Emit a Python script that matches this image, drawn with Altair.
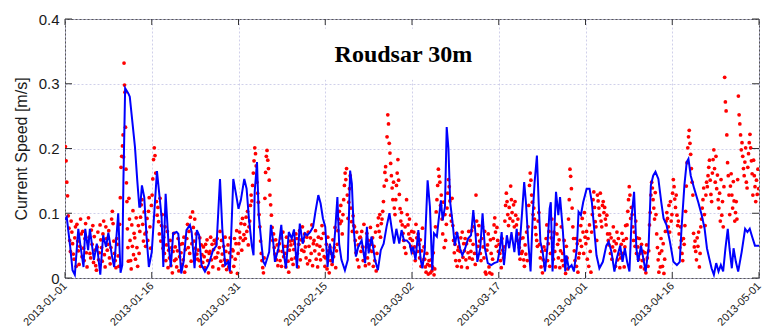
import altair as alt
import pandas as pd

START = pd.Timestamp("2013-01-01")
W, H = 694, 259

tick_dates = ["2013-01-01", "2013-01-16", "2013-01-31", "2013-02-15", "2013-03-02",
              "2013-03-17", "2013-04-01", "2013-04-16", "2013-05-01"]
y_ticks = [0.0, 0.1, 0.2, 0.3, 0.4]
title_text = "Roudsar 30m"
title_time = "2013-02-28T12:00:00"
title_speed = 0.334
box_dates = ["2013-02-14T00:00:00", "2013-03-14T00:00:00"]
box_speed = [0.306, 0.385]

# model current speed (day offset from 2013-01-01, m/s)
model_trace = [
    (0.0, .090), (0.3, .094), (0.9, .048), (1.3, .012), (1.7, .005), (2.3, .076), (2.7, .048), (3.2, .017), (3.5, .076), (4.0, .043),
    (4.3, .076), (5.0, .028), (5.5, .053), (6.1, .005), (6.6, .066), (7.1, .048), (7.5, .070), (8.1, .035), (8.5, .017), (9.2, .100),
    (9.6, .008), (9.9, .020), (10.1, .150), (10.4, .293), (10.95, .285), (11.2, .280), (12.1, .202), (12.5, .150), (12.85, .110), (13.0, .110),
    (13.3, .143), (13.7, .125), (14.1, .064), (14.5, .017), (15.0, .040), (15.9, .165), (16.3, .130), (16.7, .094), (17.0, .017), (17.4, .130),
    (17.9, .053), (18.3, .017), (18.7, .069), (19.3, .071), (19.6, .068), (20.1, .007), (20.5, .025), (21.0, .074), (21.6, .082), (21.9, .071),
    (22.4, .015), (22.8, .074), (23.2, .066), (23.6, .020), (24.2, .010), (24.8, .020), (25.6, .043), (26.2, .050), (26.8, .153), (27.2, .076),
    (27.7, .020), (28.2, .025), (28.5, .010), (29.1, .153), (29.6, .128), (30.0, .107), (30.4, .120), (31.0, .153), (31.4, .138), (31.8, .092),
    (32.3, .050), (32.6, .035), (32.8, .133), (33.2, .179), (33.5, .097), (34.0, .050), (34.3, .025), (34.6, .020), (35.3, .040), (35.6, .082),
    (36.0, .056), (36.3, .025), (36.9, .046), (37.4, .082), (37.7, .046), (38.2, .015), (38.7, .071), (39.2, .061), (39.6, .075), (40.1, .015),
    (40.6, .084), (41.1, .053), (41.5, .069), (41.9, .066), (42.4, .071), (42.9, .079), (43.3, .102), (43.8, .128), (44.2, .115), (44.6, .092),
    (45.0, .079), (45.4, .017), (45.8, .053), (46.3, .023), (46.7, .071), (47.1, .125), (47.4, .053), (47.8, .028), (48.4, .012), (48.9, .028),
    (49.3, .166), (49.6, .146), (49.9, .079), (50.3, .033), (50.7, .048), (51.3, .058), (51.9, .023), (52.2, .079), (52.5, .038), (53.0, .064),
    (53.6, .028), (54.1, .012), (54.6, .043), (55.1, .053), (55.6, .079), (56.1, .100), (56.5, .076), (56.9, .053), (57.3, .076), (57.8, .053),
    (58.2, .074), (58.6, .058), (59.1, .058), (59.6, .053), (59.9, .040), (60.2, .048), (60.6, .028), (61.1, .074), (61.5, .028), (61.8, .015),
    (62.2, .043), (62.7, .151), (63.1, .110), (63.5, .012), (63.8, .069), (64.3, .064), (64.6, .089), (65.0, .120), (65.3, .089), (65.7, .110),
    (66.0, .233), (66.3, .200), (66.6, .117), (67.0, .087), (67.4, .050), (67.8, .071), (68.3, .046), (68.7, .035), (69.2, .046), (69.7, .061),
    (70.2, .066), (70.6, .105), (71.0, .066), (71.3, .025), (71.8, .046), (72.2, .100), (72.6, .046), (73.1, .023), (73.7, .020), (74.2, .023),
    (74.8, .025), (75.2, .046), (75.5, .071), (75.9, .020), (76.4, .066), (76.8, .046), (77.2, .071), (77.7, .040), (78.1, .076), (78.5, .035),
    (79.0, .097), (79.4, .148), (79.7, .117), (80.1, .056), (80.5, .010), (80.9, .102), (81.2, .148), (81.6, .189), (81.9, .117), (82.2, .056),
    (82.6, .040), (83.0, .010), (83.4, .046), (83.8, .107), (84.0, .117), (84.3, .010), (84.9, .133), (85.3, .097), (85.6, .125), (86.1, .071),
    (86.5, .010), (86.7, .035), (87.1, .015), (87.6, .020), (88.0, .010), (88.5, .046), (88.8, .102), (89.2, .097), (89.6, .117), (90.2, .138),
    (90.7, .138), (91.1, .117), (91.5, .076), (91.9, .035), (92.4, .015), (93.0, .025), (93.6, .050), (94.0, .056), (94.5, .040), (95.0, .010),
    (95.4, .030), (96.0, .050), (96.4, .025), (96.8, .046), (97.2, .025), (97.6, .010), (98.0, .097), (98.4, .133), (98.8, .046), (99.1, .025),
    (99.6, .050), (100.0, .030), (100.4, .010), (100.9, .046), (101.3, .143), (101.7, .158), (102.1, .164), (102.6, .153), (103.1, .117), (103.5, .092),
    (104.0, .082), (104.6, .056), (105.2, .025), (105.8, .020), (106.3, .025), (106.6, .076), (107.1, .143), (107.5, .179), (107.8, .184), (108.2, .158),
    (108.8, .138), (109.5, .117), (110.1, .097), (110.6, .076), (111.0, .046), (111.4, .030), (111.8, .015), (112.2, .005), (112.6, .023), (113.0, .010),
    (113.4, .020), (113.8, .010), (114.2, .046), (114.6, .076), (114.9, .046), (115.3, .015), (115.6, .046), (116.0, .025), (116.4, .010), (117.0, .040),
    (117.6, .076), (118.0, .071), (118.4, .076), (118.8, .064), (119.3, .050), (120.0, .050),
]

# observed current speed, mm/s, 3-hourly readings grouped by day
obs_jan = [
    [203, 181, 148, 127, 96, 77, 58, 41], [88, 71, 53, 37, 29, 62, 79, 18], [83, 57, 42, 21, 49, 91, 68, 33],
    [72, 46, 27, 61, 84, 39, 17, 56], [93, 63, 38, 31, 74, 52, 81, 24], [64, 43, 19, 12, 48, 71, 28, 39],
    [82, 59, 47, 26, 68, 88, 36, 17], [79, 61, 43, 52, 73, 31, 22, 47], [91, 103, 84, 57, 38, 27, 16, 61],
    [52, 34, 18, 83, 124, 171, 188, 204], [221, 187, 332, 298, 287, 233, 168, 147, 118, 76, 47, 26],
    [123, 91, 58, 27, 14, 82, 49, 104, 36, 69], [62, 29, 93, 47, 18, 81, 38, 72], [94, 113, 121, 83, 57, 102, 68, 49],
    [71, 92, 58, 103, 124, 79, 46, 112], [128, 153, 183, 201, 189, 162, 118, 97], [109, 87, 68, 123, 57, 81, 98, 46],
    [63, 38, 79, 27, 51, 72, 16, 43], [31, 58, 19, 47, 8, 41, 69, 27], [48, 29, 17, 42, 61, 11, 33, 52],
    [39, 21, 53, 28, 63, 9, 44, 18], [61, 83, 47, 72, 38, 94, 26, 53], [102, 78, 57, 91, 46, 68, 37, 29],
    [43, 27, 62, 18, 51, 36, 24, 48], [33, 16, 52, 41, 59, 27, 8, 38], [41, 63, 28, 52, 17, 44, 58, 31],
    [53, 32, 61, 39, 14, 47, 72, 26], [58, 37, 19, 49, 28, 63, 41, 13], [27, 51, 17, 39, 62, 9, 33, 44],
    [42, 18, 61, 29, 53, 73, 7, 38], [53, 71, 62, 84, 43, 92, 58, 67],
]
obs_feb = [
    [83, 61, 94, 72, 103, 51, 79, 88], [112, 128, 119, 143, 162, 181, 201, 192], [173, 148, 131, 117, 98, 79, 57, 38],
    [27, 16, 8, 31, 123, 163, 188, 197], [182, 169, 151, 128, 113, 97, 78, 58], [68, 47, 37, 59, 28, 51, 19, 42],
    [53, 27, 62, 18, 41, 71, 33, 49], [38, 17, 63, 49, 26, 9, 43, 57], [51, 29, 58, 21, 44, 53, 31, 68],
    [61, 38, 17, 52, 73, 28, 59, 43], [79, 57, 41, 68, 48, 31, 63, 22], [71, 49, 27, 62, 38, 82, 19, 53],
    [58, 42, 73, 29, 51, 17, 63, 37], [49, 28, 61, 81, 43, 69, 33, 18], [31, 52, 14, 63, 42, 8, 48, 27],
    [38, 21, 59, 33, 47, 78, 16, 42], [52, 73, 91, 103, 84, 112, 88, 68], [98, 121, 143, 162, 152, 169, 128, 92],
    [117, 138, 158, 108, 87, 72, 96, 81], [79, 58, 39, 71, 28, 51, 17, 62], [63, 41, 72, 48, 27, 83, 37, 19],
    [48, 69, 31, 58, 22, 43, 78, 52], [41, 62, 18, 49, 27, 71, 11, 38], [81, 93, 72, 98, 63, 84, 91, 103],
    [118, 142, 163, 172, 151, 218, 252, 238], [208, 193, 177, 158, 139, 121, 148, 108], [98, 121, 143, 162, 183, 151, 129, 107],
    [88, 101, 82, 69, 58, 47, 79, 38],
]
obs_mar = [
    [121, 98, 82, 68, 91, 61, 49, 72], [58, 39, 71, 48, 27, 83, 62, 41], [68, 52, 31, 59, 18, 42, 77, 28],
    [48, 29, 17, 9, 38, 21, 6, 27], [19, 8, 28, 11, 17, 39, 5, 14], [79, 102, 121, 143, 168, 157, 148, 112],
    [128, 91, 68, 117, 47, 98, 58, 83], [108, 131, 152, 141, 119, 97, 88, 123], [81, 58, 39, 52, 27, 69, 18, 43],
    [48, 27, 41, 62, 17, 71, 32, 53], [42, 61, 28, 53, 16, 39, 72, 31], [58, 41, 73, 29, 52, 79, 38, 21],
    [128, 88, 67, 49, 81, 57, 38, 27], [61, 79, 48, 31, 72, 9, 6, 43], [51, 68, 17, 8, 59, 38, 6, 29],
    [61, 82, 93, 71, 49, 78, 58, 41], [52, 38, 27, 16, 61, 43, 31, 48], [88, 112, 131, 118, 98, 81, 109, 92],
    [142, 121, 101, 88, 113, 79, 118, 97], [82, 58, 91, 68, 47, 29, 61, 38], [41, 62, 28, 18, 51, 37, 71, 27],
    [79, 112, 143, 162, 151, 128, 117, 98], [108, 91, 78, 67, 58, 49, 88, 101], [52, 31, 17, 41, 8, 28, 48, 19],
    [43, 61, 82, 27, 53, 72, 18, 38], [62, 91, 48, 29, 71, 41, 17, 83], [68, 52, 31, 59, 16, 42, 79, 27],
    [38, 19, 58, 28, 7, 49, 31, 14], [91, 121, 168, 157, 138, 108, 79, 61], [42, 27, 61, 18, 53, 9, 31, 38],
    [58, 81, 49, 92, 71, 38, 101, 63],
]
obs_apr = [
    [53, 72, 29, 61, 18, 82, 41, 9], [71, 98, 121, 133, 109, 87, 79, 58], [128, 119, 108, 97, 131, 88, 79, 112],
    [118, 101, 109, 91, 82, 97, 68, 58], [51, 68, 38, 62, 29, 48, 79, 57], [42, 18, 53, 71, 28, 61, 37, 16],
    [31, 52, 69, 38, 58, 17, 48, 81], [61, 82, 103, 121, 141, 128, 92, 109], [98, 79, 58, 71, 49, 88, 38, 62],
    [48, 29, 61, 38, 17, 52, 27, 41], [28, 14, 39, 8, 51, 31, 18, 42], [82, 101, 128, 148, 139, 121, 108, 91],
    [132, 98, 68, 47, 28, 9, 38, 17], [61, 42, 18, 53, 7, 29, 72, 88], [101, 92, 79, 112, 71, 118, 88, 98],
    [131, 152, 141, 122, 109, 128, 97, 81], [88, 68, 47, 79, 58, 38, 27, 61], [52, 81, 103, 142, 178, 201, 218, 228],
    [208, 191, 169, 148, 128, 69, 48, 57], [41, 28, 62, 49, 71, 17, 38, 79], [91, 108, 121, 139, 98, 81, 128, 148],
    [141, 158, 171, 182, 151, 129, 118, 162], [183, 198, 169, 148, 188, 138, 159, 121], [108, 131, 88, 152, 97, 118, 79, 141],
    [310, 272, 258, 221, 178, 158, 128, 98], [142, 161, 128, 108, 149, 119, 88, 101], [118, 91, 152, 281, 252, 238, 221, 198],
    [209, 188, 169, 158, 179, 201, 148, 139], [171, 192, 209, 222, 201, 181, 161, 128], [182, 158, 141, 118, 151, 129, 168, 138],
]


def iso(day):
    return (START + pd.Timedelta(days=day)).strftime("%Y-%m-%dT%H:%M:%S")


obs_rows = []
day_index = 0
for month in (obs_jan, obs_feb, obs_mar, obs_apr):
    for readings in month:
        n = len(readings)
        for k, v in enumerate(readings):
            obs_rows.append({"time": iso(day_index + (k + 0.5) / n), "speed": v / 1000.0})
        day_index += 1
df_obs = pd.DataFrame(obs_rows)

df_model = pd.DataFrame([{"time": iso(d), "speed": s} for d, s in model_trace])
df_xticks = pd.DataFrame({"time": [t + "T00:00:00" for t in tick_dates]})
df_yticks = pd.DataFrame({"speed": y_ticks})
df_box = pd.DataFrame({"time": [box_dates[0]], "time_end": [box_dates[1]],
                       "speed": [box_speed[0]], "speed_end": [box_speed[1]]})
df_title = pd.DataFrame({"time": [title_time], "speed": [title_speed], "label": [title_text]})


def dt(s):
    y, m, d = (int(p) for p in s.split("-"))
    return alt.DateTime(year=y, month=m, date=d)


x_scale = alt.Scale(domain=[dt(tick_dates[0]), dt(tick_dates[-1])], nice=False)
y_scale = alt.Scale(domain=[0, 0.4], nice=False)

x_axis = alt.Axis(values=[dt(t) for t in tick_dates], format="%Y-%m-%d", labelAngle=-45,
                  labelAlign="right", labelBaseline="middle", labelFontSize=11, labelPadding=6,
                  labelFlush=False, labelOverlap=False, labelBound=False)
y_axis = alt.Axis(values=y_ticks, format=".1~f", labelFontSize=15, labelPadding=6,
                  titleFontSize=16, titlePadding=9)

x_enc = alt.X("time:T", scale=x_scale, axis=x_axis, title=None)
y_enc = alt.Y("speed:Q", scale=y_scale, axis=y_axis, title="Current Speed [m/s]")

box = alt.Chart(df_box).mark_rect(color="white").encode(
    x=x_enc, x2="time_end:T", y=y_enc, y2="speed_end:Q")

points = alt.Chart(df_obs).mark_circle(color="#ff0000", size=14, opacity=1, clip=True).encode(
    x=x_enc, y=y_enc)

line = alt.Chart(df_model).mark_line(color="#0000ff", strokeWidth=2, clip=True).encode(
    x=x_enc, y=y_enc)

title = alt.Chart(df_title).mark_text(font="Liberation Serif", fontWeight="bold", fontSize=24,
                                      color="black", baseline="alphabetic", align="center").encode(
    x=x_enc, y=y_enc, text="label:N")

tick_color = "#333333"
xt_bottom = alt.Chart(df_xticks).mark_rule(color=tick_color, strokeWidth=1).encode(
    x=x_enc, y=alt.value(H), y2=alt.value(H - 6))
xt_top = alt.Chart(df_xticks).mark_rule(color=tick_color, strokeWidth=1).encode(
    x=x_enc, y=alt.value(0), y2=alt.value(6))
yt_left = alt.Chart(df_yticks).mark_rule(color=tick_color, strokeWidth=1).encode(
    y=y_enc, x=alt.value(0), x2=alt.value(7))
yt_right = alt.Chart(df_yticks).mark_rule(color=tick_color, strokeWidth=1).encode(
    y=y_enc, x=alt.value(W - 7), x2=alt.value(W))

chart = alt.layer(box, points, line, title, xt_bottom, xt_top, yt_left, yt_right).properties(
    width=W, height=H,
    autosize=alt.AutoSizeParams(type="none"),
    padding={"left": 65, "top": 19, "right": 6, "bottom": 57},
    background="white",
).configure_view(
    stroke="#555555", strokeWidth=1
).configure_axis(
    grid=True, gridColor="#c4c4e4", gridDash=[2, 2], gridWidth=0.8,
    domain=False, ticks=False,
    labelFont="Liberation Sans", labelColor="#1a1a1a",
    titleFont="Liberation Sans", titleFontWeight="normal", titleColor="#1a1a1a",
)

chart.save("out.html", embed_options={"renderer": "svg", "actions": False})
